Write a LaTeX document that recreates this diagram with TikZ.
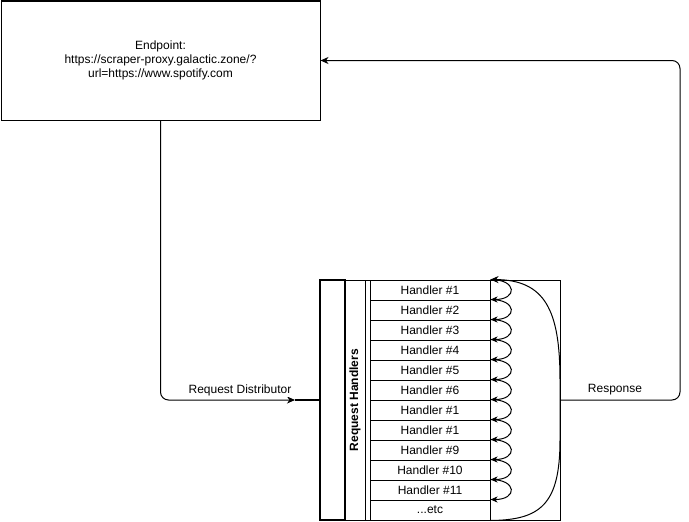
\documentclass[tikz,border=0pt]{standalone}
\usepackage{fontspec}
\setmainfont{Liberation Sans}
\usetikzlibrary{arrows.meta}
\begin{document}
\begin{tikzpicture}[x=1pt,y=-1pt,
  every node/.style={font=\fontsize{12}{14}\selectfont, inner sep=0pt},
  box/.style={draw, line width=1pt, rectangle},
  cell/.style={draw, line width=1pt, rectangle, minimum width=120pt, minimum height=20pt},
  conn/.style={line width=1pt, rounded corners=8pt},
  tip/.style={-{Stealth[length=8pt,width=7pt,inset=2.5pt]}},
  smalltip/.style={-{Stealth[length=7pt,width=6pt,inset=2pt]}},
  lbl/.style={fill=white, inner sep=1pt}
]
\useasboundingbox (0,0) rectangle (689,522);
\fill[white] (0,0) rectangle (689,522);

\node[box, minimum width=319pt, minimum height=119pt, align=center] (endpoint) at (160.5,60.5)
  {Endpoint:\\https://scraper-proxy.galactic.zone/?\\url=https://www.spotify.com};

\node[draw, line width=2pt, minimum width=25pt, minimum height=240pt] (tb) at (332.5,400) {};
\node[box, minimum width=215pt, minimum height=240pt] (cont) at (452.5,400) {};
\draw[line width=1pt] (365,280) -- (365,520);
\draw[line width=1pt] (370,280) -- (370,520);
\node[rotate=90, font=\fontsize{12}{14}\selectfont\bfseries] (rh) at (355,400) {Request Handlers};

\node[cell] (h1) at (430,290) {Handler \#1};
\node[cell] (h2) at (430,310) {Handler \#2};
\node[cell] (h3) at (430,330) {Handler \#3};
\node[cell] (h4) at (430,350) {Handler \#4};
\node[cell] (h5) at (430,370) {Handler \#5};
\node[cell] (h6) at (430,390) {Handler \#6};
\node[cell] (h7) at (430,410) {Handler \#1};
\node[cell] (h8) at (430,430) {Handler \#1};
\node[cell] (h9) at (430,450) {Handler \#9};
\node[cell] (h10) at (430,470) {Handler \#10};
\node[cell] (h11) at (430,490) {Handler \#11};
\node[cell] (h12) at (430,510) {...etc};

\foreach \a/\b in {h1/h2,h2/h3,h3/h4,h4/h5,h5/h6,h6/h7,h7/h8,h8/h9,h9/h10,h10/h11,h11/h12}{
  \draw[line width=1pt, smalltip] (\a.north east) .. controls ([xshift=27pt]\a.north east) and ([xshift=27pt]\b.north east) .. (\b.north east);
}

\coordinate (cmid1) at (560,380);
\coordinate (cmid2) at (560,440);
\draw[line width=1pt, tip] (h12.south east) .. controls (540,520) and (560,505) .. (cmid2) -- (cmid1) .. controls (560,310) and (545,280) .. (h1.north east);

\coordinate (dtip) at (295,400);
\draw[conn, tip] (endpoint.south) |- (dtip);
\draw[line width=2pt] (dtip) -- (tb.west);
\node[lbl] (ldist) at (240,390) {Request Distributor};

\coordinate (rc1) at (680,400);
\draw[conn, tip] (cont.east) -- (rc1) |- (endpoint.east);
\node[lbl] (lresp) at (615,390) {Response};
\end{tikzpicture}
\end{document}
